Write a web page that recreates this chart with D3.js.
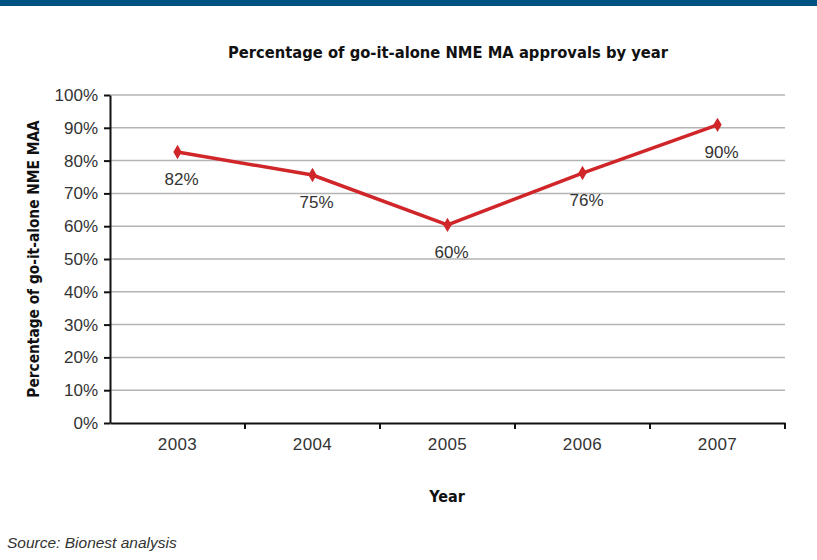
<!DOCTYPE html>
<html>
<head>
<meta charset="utf-8">
<script src="https://cdn.jsdelivr.net/npm/d3@7"></script>
<style>
  body { margin: 0; background: #fff; }
  svg { display: block; }
</style>
</head>
<body>
<svg></svg>
<script>
const years = ['2003', '2004', '2005', '2006', '2007'];
const approvals = [82.6, 75.6, 60.4, 76.2, 90.9];
const pointLabels = ['82%', '75%', '60%', '76%', '90%'];
const yTicks = [0, 10, 20, 30, 40, 50, 60, 70, 80, 90, 100];

const width = 817, height = 560;
const margin = { top: 95, right: 32, bottom: 137, left: 110 };
const condensed = '"DejaVu Sans Condensed", "Arial Narrow", sans-serif';
const plain = '"Liberation Sans", Arial, sans-serif';
const labelSize = 17;

const svg = d3.select('svg')
  .attr('width', width)
  .attr('height', height);

// top banner
svg.append('rect')
  .attr('width', width)
  .attr('height', 6)
  .attr('fill', '#005283');

const x = d3.scaleBand()
  .domain(years)
  .range([margin.left, width - margin.right]);

const y = d3.scaleLinear()
  .domain([0, 100])
  .range([height - margin.bottom, margin.top]);

// gridlines
svg.append('g')
  .selectAll('line')
  .data(yTicks.filter(d => d > 0))
  .enter().append('line')
    .attr('x1', margin.left)
    .attr('x2', width - margin.right)
    .attr('y1', d => y(d))
    .attr('y2', d => y(d))
    .attr('stroke', '#b4b4b4')
    .attr('stroke-width', 1.5);

// y axis
const yAxis = svg.append('g')
  .attr('transform', 'translate(' + margin.left + ',0)')
  .call(d3.axisLeft(y).tickValues(yTicks).tickFormat(d => d + '%').tickSize(6).tickSizeOuter(0));
yAxis.select('.domain').attr('stroke', '#111').attr('stroke-width', 2);
yAxis.selectAll('.tick line').attr('stroke', '#111').attr('stroke-width', 2);
yAxis.selectAll('text')
  .attr('x', -12)
  .attr('font-family', plain)
  .attr('font-size', labelSize)
  .attr('fill', '#333');

// x axis
const xAxis = svg.append('g')
  .attr('transform', 'translate(0,' + y(0) + ')')
  .call(d3.axisBottom(x).tickSize(0).tickSizeOuter(0));
xAxis.select('.domain').attr('stroke', '#111').attr('stroke-width', 2);
xAxis.selectAll('text')
  .attr('dy', '0.71em')
  .attr('y', 15)
  .attr('font-family', plain)
  .attr('font-size', labelSize)
  .attr('letter-spacing', 0.4)
  .attr('fill', '#333');

// category separator ticks
svg.append('g')
  .selectAll('line')
  .data(years.slice(1).concat(['end']))
  .enter().append('line')
    .attr('x1', (d, i) => i < years.length - 1 ? x(d) : x(years[years.length - 1]) + x.bandwidth())
    .attr('x2', (d, i) => i < years.length - 1 ? x(d) : x(years[years.length - 1]) + x.bandwidth())
    .attr('y1', y(0))
    .attr('y2', y(0) + 6)
    .attr('stroke', '#111')
    .attr('stroke-width', 2);

// line
const line = d3.line()
  .x((d, i) => x(years[i]) + x.bandwidth() / 2)
  .y(d => y(d));

svg.append('path')
  .datum(approvals)
  .attr('d', line)
  .attr('fill', 'none')
  .attr('stroke', '#d0262a')
  .attr('stroke-width', 3.5);

svg.append('g')
  .selectAll('path')
  .data(approvals)
  .enter().append('path')
    .attr('d', d3.symbol().type(d3.symbolDiamond).size(60))
    .attr('transform', (d, i) => 'translate(' + (x(years[i]) + x.bandwidth() / 2) + ',' + y(d) + ')')
    .attr('fill', '#d0262a');

// point labels
svg.append('g')
  .selectAll('text')
  .data(approvals)
  .enter().append('text')
    .attr('x', (d, i) => x(years[i]) + x.bandwidth() / 2 + 4)
    .attr('y', d => y(d) + 33)
    .attr('text-anchor', 'middle')
    .attr('font-family', plain)
    .attr('font-size', labelSize)
    .attr('fill', '#333')
    .text((d, i) => pointLabels[i]);

// titles
svg.append('text')
  .attr('x', 448)
  .attr('y', 58)
  .attr('text-anchor', 'middle')
  .attr('font-family', condensed)
  .attr('font-weight', 'bold')
  .attr('font-size', 16.4)
  .attr('fill', '#111')
  .text('Percentage of go-it-alone NME MA approvals by year');

svg.append('text')
  .attr('transform', 'translate(39,259) rotate(-90)')
  .attr('text-anchor', 'middle')
  .attr('font-family', condensed)
  .attr('font-weight', 'bold')
  .attr('font-size', 15.3)
  .attr('fill', '#111')
  .text('Percentage of go-it-alone NME MAA');

svg.append('text')
  .attr('x', 447)
  .attr('y', 502)
  .attr('text-anchor', 'middle')
  .attr('font-family', condensed)
  .attr('font-weight', 'bold')
  .attr('font-size', 16)
  .attr('fill', '#111')
  .text('Year');

svg.append('text')
  .attr('x', 7)
  .attr('y', 548)
  .attr('font-family', plain)
  .attr('font-style', 'italic')
  .attr('font-size', 15.5)
  .attr('fill', '#333')
  .text('Source: Bionest analysis');
</script>
</body>
</html>
